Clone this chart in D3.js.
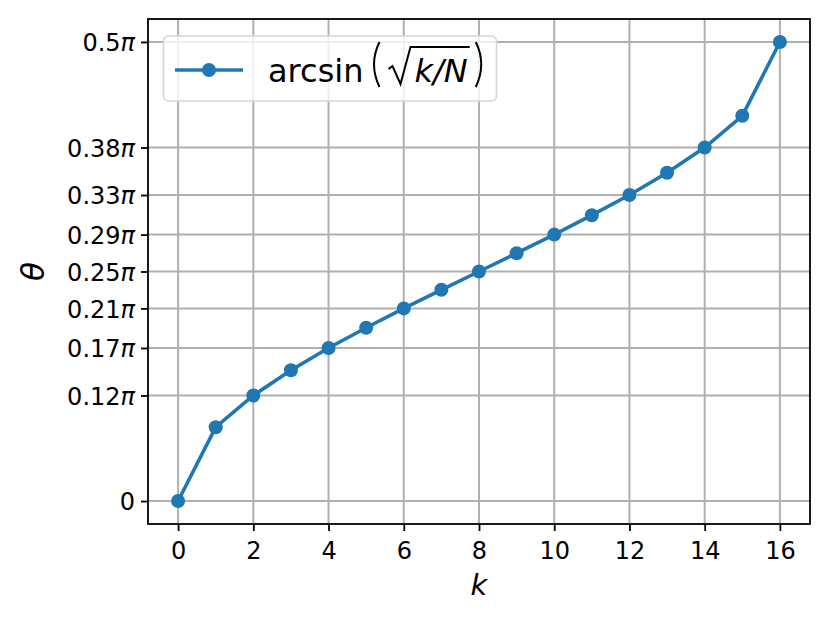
<!DOCTYPE html>
<html>
<head>
<meta charset="utf-8">
<script src="https://cdn.jsdelivr.net/npm/d3@7"></script>
<style>
  body { margin: 0; background: #fff; }
  svg text { font-family: "DejaVu Sans", sans-serif; fill: #000; }
</style>
</head>
<body>
<svg id="chart"></svg>
<script>
const WIDTH = 830;
const HEIGHT = 623;
const MARGINS = {top: 19, bottom: 99, left: 148, right: 20};

// k values and theta / pi
const kValues = [0, 1, 2, 3, 4, 5, 6, 7, 8, 9, 10, 11, 12, 13, 14, 15, 16];
const thetaOverPi = [0, 0.0804, 0.1150, 0.1425, 0.1667, 0.1887, 0.2098, 0.2301, 0.25,
                     0.2699, 0.2902, 0.3113, 0.3333, 0.3575, 0.3850, 0.4196, 0.5];
const xTicks = [0, 2, 4, 6, 8, 10, 12, 14, 16];
const yTicks = [0, 0.1150, 0.1667, 0.2098, 0.25, 0.2902, 0.3333, 0.3850, 0.5];
const yTickLabels = ["0", "0.12", "0.17", "0.21", "0.25", "0.29", "0.33", "0.38", "0.5"];

const BLUE = "#1f77b4";

let svg = d3.select('#chart')
    .attr('width', WIDTH)
    .attr('height', HEIGHT);

const plotW = WIDTH - MARGINS.left - MARGINS.right;
const plotH = HEIGHT - MARGINS.top - MARGINS.bottom;

const x = d3.scaleLinear().domain([-0.8, 16.8]).range([MARGINS.left, MARGINS.left + plotW]);
const y = d3.scaleLinear().domain([-0.025, 0.525]).range([MARGINS.top + plotH, MARGINS.top]);

//Grid
let grid = svg.append('g');
grid.selectAll('line.vgrid')
    .data(xTicks)
    .enter().append('line')
    .attr('x1', d => x(d)).attr('x2', d => x(d))
    .attr('y1', MARGINS.top).attr('y2', MARGINS.top + plotH)
    .style('stroke', '#b0b0b0').style('stroke-width', 2);
grid.selectAll('line.hgrid')
    .data(yTicks)
    .enter().append('line')
    .attr('y1', d => y(d)).attr('y2', d => y(d))
    .attr('x1', MARGINS.left).attr('x2', MARGINS.left + plotW)
    .style('stroke', '#b0b0b0').style('stroke-width', 2);

//Axes
let xAxis = d3.axisBottom(x).tickValues(xTicks).tickSize(7).tickPadding(6).tickSizeOuter(0);
let yAxis = d3.axisLeft(y).tickValues(yTicks).tickSize(7).tickPadding(6).tickSizeOuter(0)
    .tickFormat((d, i) => yTickLabels[i]);

let gx = svg.append('g')
    .attr('transform', `translate(0, ${MARGINS.top + plotH})`)
    .call(xAxis);
let gy = svg.append('g')
    .attr('transform', `translate(${MARGINS.left}, 0)`)
    .call(yAxis);

[gx, gy].forEach(g => {
    g.select('.domain').remove();
    g.selectAll('.tick line').style('stroke', '#000').style('stroke-width', 1.8);
    g.selectAll('.tick text')
        .style('font-family', '"DejaVu Sans", sans-serif')
        .style('font-size', '24px')
        .style('fill', '#000');
});
gy.selectAll('.tick text').attr('dy', '0.36em');
gx.selectAll('.tick text').attr('dy', '0.9em');

// pi symbol on y tick labels
gy.selectAll('.tick text').each(function(d, i) {
    if (yTickLabels[i] === "0") return;
    d3.select(this).append('tspan').style('font-style', 'italic').text('π');
});

//Spines
svg.append('rect')
    .attr('x', MARGINS.left).attr('y', MARGINS.top)
    .attr('width', plotW).attr('height', plotH)
    .style('fill', 'none').style('stroke', '#000').style('stroke-width', 1.8);

//Data line
const line = d3.line().x((d, i) => x(kValues[i])).y(d => y(d));
svg.append('path')
    .datum(thetaOverPi)
    .attr('d', line)
    .style('fill', 'none').style('stroke', BLUE).style('stroke-width', 3.6);
svg.selectAll('circle.pt')
    .data(thetaOverPi)
    .enter().append('circle')
    .attr('cx', (d, i) => x(kValues[i]))
    .attr('cy', d => y(d))
    .attr('r', 7)
    .style('fill', BLUE);

//Axis labels
svg.append('text')
    .attr('x', MARGINS.left + plotW / 2)
    .attr('y', 595)
    .style('text-anchor', 'middle')
    .style('font-size', '29px')
    .style('font-style', 'italic')
    .text('k');
svg.append('text')
    .attr('transform', `translate(44, ${MARGINS.top + plotH / 2}) rotate(-90)`)
    .style('text-anchor', 'middle')
    .style('font-size', '31px')
    .style('font-style', 'italic')
    .text('θ');

//Legend
let legend = svg.append('g');
legend.append('rect')
    .attr('x', 163.5).attr('y', 36)
    .attr('width', 333).attr('height', 65)
    .attr('rx', 5)
    .style('fill', 'rgba(255,255,255,0.8)')
    .style('stroke', '#d6d6d6').style('stroke-width', 1.6);
const ly = 70;
legend.append('line')
    .attr('x1', 175).attr('x2', 243).attr('y1', ly).attr('y2', ly)
    .style('stroke', BLUE).style('stroke-width', 3.6);
legend.append('circle')
    .attr('cx', 209).attr('cy', ly).attr('r', 7).style('fill', BLUE);

const base = 82;
let t1 = legend.append('text')
    .attr('x', 268).attr('y', base)
    .style('font-size', '32px')
    .text('arcsin');
let cx0 = 268 + t1.node().getComputedTextLength() + 8;
// left paren
legend.append('path')
    .attr('d', `M${cx0 + 8},42 Q${cx0 - 3},64 ${cx0 + 8},87`)
    .style('fill', 'none').style('stroke', '#000').style('stroke-width', 2);
// radical
let rx = cx0 + 17;
legend.append('path')
    .attr('d', `M${rx},69 L${rx + 4},66 L${rx + 12},84 L${rx + 22},47 L${rx + 24},47`)
    .style('fill', 'none').style('stroke', '#000').style('stroke-width', 2)
    .style('stroke-linejoin', 'miter');
let t2 = legend.append('text')
    .attr('x', rx + 26).attr('y', base)
    .style('font-size', '32px')
    .style('font-style', 'italic')
    .text('k/N');
let rEnd = rx + 26 + t2.node().getComputedTextLength() + 2;
legend.append('line')
    .attr('x1', rx + 22).attr('x2', rEnd).attr('y1', 47).attr('y2', 47)
    .style('stroke', '#000').style('stroke-width', 2);
// right paren
let px = rEnd + 6;
legend.append('path')
    .attr('d', `M${px},42 Q${px + 11},64 ${px},87`)
    .style('fill', 'none').style('stroke', '#000').style('stroke-width', 2);
</script>
</body>
</html>
